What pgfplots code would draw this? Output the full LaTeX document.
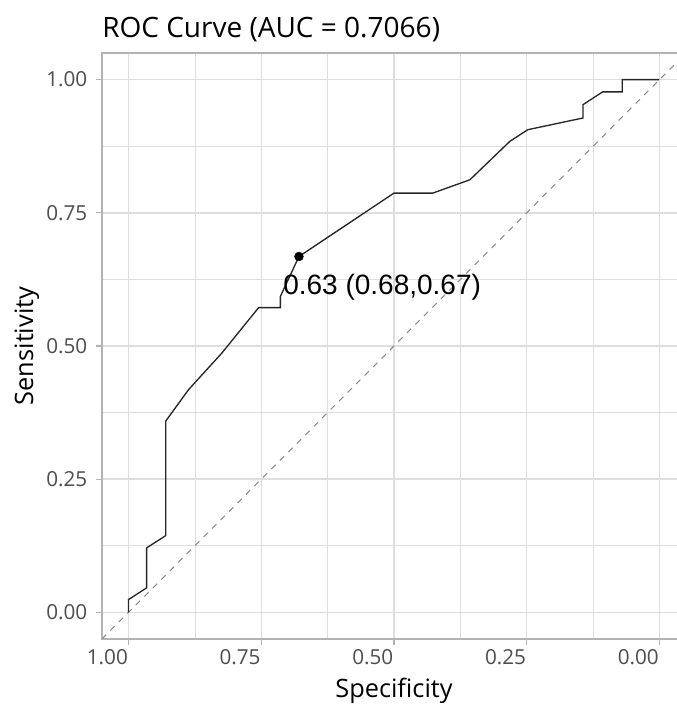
\documentclass[border=0pt]{standalone}
\usepackage{fontspec}
\setmainfont{Open Sans}
\newfontfamily\arial{Liberation Sans}
\usepackage{pgfplots}
\pgfplotsset{compat=1.18}
\definecolor{gridgray}{HTML}{DEDEDE}
\definecolor{bordergray}{HTML}{B3B3B3}
\definecolor{ticktext}{HTML}{4D4D4D}
\definecolor{refgray}{HTML}{8C8C8C}

\begin{document}
\begin{tikzpicture}[x=1pt,y=1pt]
\useasboundingbox (-76.5,-48.75) rectangle (430.5,479.25);
\begin{axis}[
    scale only axis,
    width=438pt, height=439.5pt,
    at={(0,0)}, anchor=south west,
    x dir=reverse,
    xmin=-0.05, xmax=1.05,
    ymin=-0.05, ymax=1.05,
    xtick={0,0.25,0.5,0.75,1},
    ytick={0,0.25,0.5,0.75,1},
    xticklabels={0.00,0.25,0.50,0.75,1.00},
    yticklabels={0.00,0.25,0.50,0.75,1.00},
    minor xtick={0.125,0.375,0.625,0.875},
    minor ytick={0.125,0.375,0.625,0.875},
    grid=both,
    major grid style={gridgray, line width=1.1pt},
    minor grid style={gridgray, line width=0.6pt},
    axis line style={bordergray, line width=1.1pt},
    tick align=outside,
    major tick length=4.5pt,
    minor tick length=0pt,
    tick style={bordergray, line width=0.8pt},
    xtick pos=left, ytick pos=left,
    tick label style={font=\fontsize{15.5}{18}\selectfont, text=ticktext},
    xticklabel style={anchor=north east, xshift=3pt},
    yticklabel style={xshift=-3pt},
    /pgf/number format/assume math mode=true,
    title={ROC Curve (AUC = 0.7066)},
    title style={at={(axis description cs:0,1.0273)}, anchor=base west,
        inner sep=0pt, yshift=0pt, xshift=0pt,
        font=\fontsize{21}{25}\selectfont},
    every axis title shift=0pt,
    xlabel={Specificity},
    xlabel style={at={(axis description cs:0.5,-0.099)}, anchor=base,
        font=\fontsize{19}{23}\selectfont},
    ylabel={Sensitivity},
    ylabel style={at={(axis description cs:-0.118,0.5)}, anchor=base,
        font=\fontsize{19}{23}\selectfont},
]

% chance line
\addplot[refgray, line width=0.8pt, dash pattern=on 4.5pt off 4.5pt]
    coordinates {(1.05,-0.05) (-0.05,1.05)};

% empirical ROC curve
\addplot[black!85, line width=1pt]
    coordinates {
    (1.000,0.000)(1.000,0.024)(0.966,0.046)(0.966,0.121)(0.930,0.144)
    (0.930,0.359)(0.887,0.418)(0.824,0.487)(0.755,0.572)(0.714,0.572)
    (0.714,0.593)(0.679,0.668)(0.500,0.787)(0.427,0.787)(0.357,0.812)
    (0.282,0.884)(0.248,0.906)(0.144,0.928)(0.144,0.953)(0.107,0.977)
    (0.070,0.977)(0.070,1.000)(0.000,1.000)
    };

% best threshold
\addplot[only marks, mark=*, mark size=3.3pt, black]
    coordinates {(0.679,0.668)};
\node[anchor=base west, inner sep=0pt, font=\arial\fontsize{21}{25}\selectfont]
    at (axis cs:0.709,0.597) {0.63 (0.68,0.67)};

\end{axis}
\end{tikzpicture}
\end{document}
